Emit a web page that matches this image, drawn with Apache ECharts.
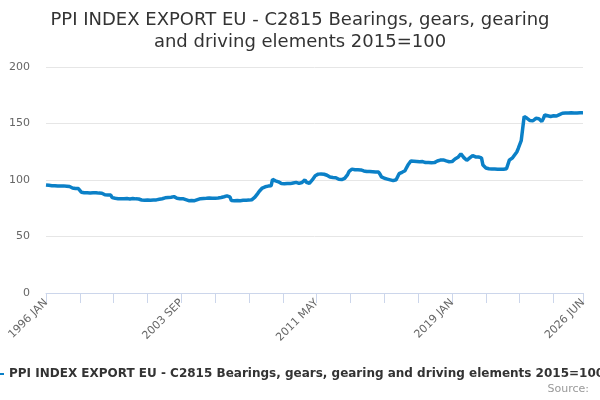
<!DOCTYPE html>
<html>
<head>
<meta charset="utf-8">
<script src="https://cdn.jsdelivr.net/npm/echarts@6/dist/echarts.min.js"></script>
<style>
  html, body { margin: 0; padding: 0; background: #fff; }
  #chart { width: 600px; height: 400px; }
</style>
</head>
<body>
<div id="chart"></div>
<script>
// monthly index values, 1996 JAN .. 2026 JUN (2015=100)
var titleText = 'PPI INDEX EXPORT EU - C2815 Bearings, gears, gearing\nand driving elements 2015=100';
var seriesName = 'PPI INDEX EXPORT EU - C2815 Bearings, gears, gearing and driving elements 2015=100';
var monthNames = ['JAN', 'FEB', 'MAR', 'APR', 'MAY', 'JUN', 'JUL', 'AUG', 'SEP', 'OCT', 'NOV', 'DEC'];
var firstYear = 1996;
var yTicks = [0, 50, 100, 150, 200];

var values = [
  95.6, 95.4, 95.3, 95.1, 95.0, 94.9, 95.0, 94.8, 94.7, 94.9, 94.6, 94.7,   // 1996
  94.8, 94.6, 94.5, 94.4, 94.2, 93.8, 92.9, 92.7, 92.5, 92.6, 92.4, 92.3,   // 1997
  89.2, 88.9, 88.8, 89.0, 88.7, 88.8, 88.6, 88.9, 88.7, 88.5, 88.8, 88.6,   // 1998
  88.4, 88.7, 88.3, 87.1, 86.9, 87.0, 86.8, 87.0, 86.7, 84.4, 84.0, 83.8,   // 1999
  83.7, 83.5, 83.6, 83.4, 83.7, 83.5, 83.3, 83.6, 83.5, 83.2, 83.4, 83.6,   // 2000
  83.5, 83.3, 83.4, 83.2, 82.6, 82.3, 82.4, 82.1, 82.5, 82.2, 82.4, 82.0,   // 2001
  82.3, 82.2, 81.9, 82.4, 83.2, 82.9, 83.6, 83.4, 83.8, 84.2, 84.0, 84.5,   // 2002
  84.3, 84.8, 85.0, 85.3, 84.6, 83.8, 83.6, 83.4, 83.2, 83.5, 83.0, 82.6,   // 2003
  81.9, 81.7, 81.6, 81.8, 81.5, 81.7, 81.9, 82.6, 83.2, 83.5, 83.4, 83.7,   // 2004
  83.5, 83.8, 83.6, 84.0, 83.7, 83.9, 84.1, 83.8, 84.2, 84.0, 84.3, 84.5,   // 2005
  84.8, 85.2, 85.6, 86.0, 85.4, 85.1, 81.8, 81.6, 81.7, 81.5, 81.8, 81.6,   // 2006
  81.7, 81.9, 82.0, 81.8, 82.1, 81.9, 82.2, 82.4, 82.6, 83.4, 84.8, 86.5,   // 2007
  88.2, 90.1, 91.8, 92.9, 93.6, 94.0, 94.4, 94.6, 94.5, 94.8, 100.5, 100.8, // 2008
  99.3, 98.8, 98.4, 97.5, 96.8, 96.4, 96.7, 96.5, 96.9, 96.6, 96.8, 97.0,   // 2009
  97.4, 98.6, 97.9, 97.2, 97.0, 97.3, 97.8, 98.4, 100.2, 98.0, 97.4, 97.1,  // 2010
  98.5, 100.1, 101.4, 103.8, 104.9, 105.2, 105.0, 105.3, 104.8, 105.1, 104.6, 104.2, // 2011
  103.2, 102.6, 102.4, 102.2, 102.5, 102.0, 101.4, 100.6, 100.1, 100.4, 100.9, 101.5, // 2012
  102.2, 104.8, 107.6, 109.2, 109.6, 109.4, 109.1, 108.8, 109.0, 108.7, 108.9, 108.5, // 2013
  108.0, 107.7, 107.5, 107.3, 107.6, 107.2, 107.4, 107.5, 107.1, 106.8, 107.0, 105.2, // 2014
  102.8, 101.8, 101.5, 101.2, 100.8, 100.6, 100.1, 99.7, 99.4, 99.6, 100.2, 101.8,    // 2015
  105.6, 106.4, 106.8, 107.5, 108.2, 110.8, 113.2, 115.0, 116.8, 117.8, 116.6, 116.2, // 2016
  116.4, 115.8, 116.1, 116.0, 116.3, 115.6, 115.4, 115.2, 115.5, 115.1, 115.3, 115.6, // 2017
  115.4, 116.2, 116.8, 117.3, 117.6, 117.4, 117.8, 117.5, 116.9, 116.5, 116.2, 116.0, // 2018
  116.3, 117.4, 118.6, 119.2, 120.1, 121.8, 123.2, 122.4, 119.8, 118.1, 117.4, 118.0, // 2019
  119.5, 120.8, 121.6, 121.0, 120.4, 120.1, 120.3, 119.9, 119.6, 113.2, 111.5, 110.6, // 2020
  110.2, 109.9, 109.6, 109.8, 109.5, 109.7, 109.4, 109.6, 109.3, 109.5, 109.8, 109.6, // 2021
  109.4, 110.0, 110.5, 117.8, 118.6, 119.4, 121.2, 122.3, 124.8, 127.9, 128.6, 134.8, // 2022
  136.2, 156.2, 155.4, 154.6, 153.8, 152.6, 152.1, 152.4, 153.5, 154.6, 155.1, 154.3, // 2023
  152.8, 151.8, 154.2, 157.6, 157.3, 156.9, 156.4, 156.2, 156.5, 156.8, 156.3, 156.6, // 2024
  157.2, 157.9, 158.6, 159.1, 159.4, 159.2, 159.6, 159.3, 159.7, 159.5, 159.8, 159.4, // 2025
  159.6, 159.3, 159.7, 159.5, 159.8, 159.6                                            // 2026
];

var categories = [];
for (var i = 0; i < values.length; i++) {
  var y = firstYear + Math.floor(i / 12);
  categories.push(y + ' ' + monthNames[i % 12]);
}
var lastIdx = categories.length - 1;

var chart = echarts.init(document.getElementById('chart'), null, { renderer: 'canvas' });

chart.setOption({
  animation: false,
  backgroundColor: '#ffffff',
  textStyle: { fontFamily: 'DejaVu Sans' },
  title: {
    text: titleText,
    left: 'center',
    top: 4,
    textStyle: {
      fontSize: 18,
      fontWeight: 'normal',
      color: '#333333',
      lineHeight: 22,
      fontFamily: 'DejaVu Sans'
    }
  },
  legend: {
    left: -17,
    top: 363,
    itemWidth: 16,
    itemHeight: 2,
    itemGap: 5,
    icon: 'rect',
    data: [seriesName],
    textStyle: { fontSize: 12, fontWeight: 'bold', color: '#333333', fontFamily: 'DejaVu Sans' }
  },
  graphic: [{
    type: 'text',
    right: 11,
    top: 384,
    style: { text: 'Source:', fill: '#999999', fontSize: 11, fontFamily: 'DejaVu Sans' }
  }],
  grid: { left: 46, right: 17, top: 67, bottom: 107, containLabel: false },
  xAxis: {
    type: 'category',
    data: categories,
    boundaryGap: false,
    axisLine: { lineStyle: { color: '#ccd6eb', width: 1 } },
    axisTick: {
      show: true,
      length: 10,
      lineStyle: { color: '#ccd6eb' },
      interval: function (idx) { return idx % 23 === 0 || idx === lastIdx; }
    },
    axisLabel: {
      rotate: 45,
      color: '#666666',
      fontSize: 11,
      margin: 8,
      interval: function (idx) { return idx % 92 === 0 || idx === lastIdx; }
    },
    splitLine: { show: false }
  },
  yAxis: {
    type: 'value',
    min: yTicks[0],
    max: yTicks[yTicks.length - 1],
    interval: yTicks[1] - yTicks[0],
    axisLine: { show: false },
    axisTick: { show: false },
    axisLabel: { color: '#666666', fontSize: 11, margin: 16 },
    splitLine: { lineStyle: { color: '#e6e6e6' } }
  },
  series: [{
    name: seriesName,
    type: 'line',
    data: values,
    color: '#0b80c7',
    showSymbol: false,
    symbol: 'circle',
    lineStyle: { width: 3.5, color: '#0b80c7' },
    emphasis: { disabled: true }
  }]
});
</script>
</body>
</html>
